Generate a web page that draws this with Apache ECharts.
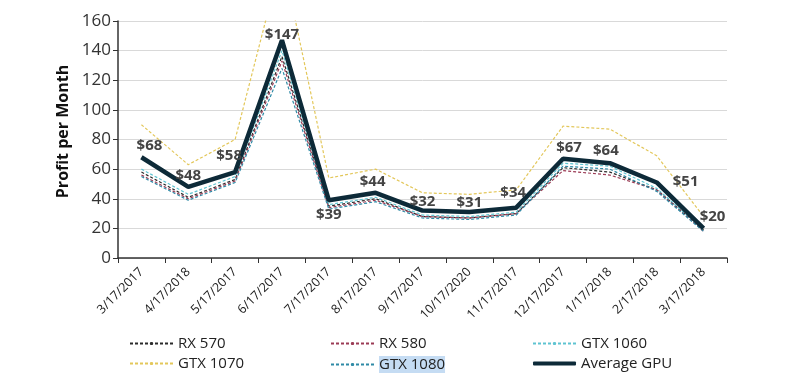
<!DOCTYPE html>
<html>
<head>
<meta charset="utf-8">
<script src="https://cdn.jsdelivr.net/npm/echarts@6/dist/echarts.min.js"></script>
<style>html,body{margin:0;padding:0;background:#fff}#c{width:800px;height:384px}</style>
</head>
<body>
<div id="c"></div>
<script>
const categories = ['3/17/2017','4/17/2018','5/17/2017','6/17/2017','7/17/2017','8/17/2017','9/17/2017','10/17/2020','11/17/2017','12/17/2017','1/17/2018','2/17/2018','3/17/2018'];
const rx570   = [58, 41, 53, 136, 35, 40, 28, 27, 30, 61, 58, 46, 19];
const rx580   = [56, 40, 52, 133, 34, 39, 28, 27, 30, 59, 56, 46, 18];
const gtx1060 = [60, 43, 55, 140, 36, 41, 29, 28, 31, 64, 62, 47, 19];
const gtx1070 = [90, 63, 80, 203, 54, 60, 44, 43, 46, 89, 87, 69, 28];
const gtx1080 = [55, 39, 51, 128, 33, 38, 27, 26, 29, 62, 60, 45, 18];
const avgGpu  = [68, 48, 58, 147, 39, 44, 32, 31, 34, 67, 64, 51, 20];
const yTicks  = [0, 20, 40, 60, 80, 100, 120, 140, 160];

// label placement per point (position, dx, dy)
const labelPlace = [
  ['top', 8, 0], ['top', 0, 0], ['top', -6, -5], ['top', 0, 6], ['bottom', 0, 3], ['top', -3, 0],
  ['top', 0, 3], ['top', 0, 2], ['top', -3, -3], ['top', 6, 0], ['top', -4, -1], ['right', 12, -1], ['top', 9, 0]
];

const font = '"Open Sans", "Noto Sans", sans-serif';
function dashed(name, data, color) {
  return {
    name, type: 'line', data, symbol: 'none', z: 2,
    lineStyle: { color, width: 1.2, type: [3, 2] },
    itemStyle: { color }
  };
}

const chart = echarts.init(document.getElementById('c'), null, { renderer: 'canvas' });
const legendBase = {
  orient: 'vertical', top: 331, itemWidth: 43, itemHeight: 4, itemGap: 5,
  textStyle: { fontFamily: font, fontSize: 15, color: '#222',
    rich: { h: { backgroundColor: '#c5dcf3', fontFamily: font, fontSize: 15, color: '#222', padding: [1, 0, 1, 0] } } },
  formatter: n => n === 'GTX 1080' ? '{h|' + n + '}' : n,
  selectedMode: false
};
chart.setOption({
  animation: false,
  grid: { left: 118, right: 73, top: 21, bottom: 126 },
  legend: [
    Object.assign({}, legendBase, { left: 124, data: ['RX 570', 'GTX 1070'] }),
    Object.assign({}, legendBase, { left: 325, data: ['RX 580', 'GTX 1080'] }),
    Object.assign({}, legendBase, { left: 527, data: ['GTX 1060', { name: 'Average GPU', icon: 'roundRect' }] })
  ],
  xAxis: {
    type: 'category', data: categories, boundaryGap: true,
    axisLine: { lineStyle: { color: '#333', width: 1.5 } },
    axisTick: { show: true, alignWithLabel: false, length: 5, lineStyle: { color: '#333' } },
    axisLabel: { rotate: 45, fontFamily: font, fontSize: 12.5, color: '#222', interval: 0, margin: 12 }
  },
  yAxis: {
    type: 'value', min: yTicks[0], max: yTicks[yTicks.length - 1], interval: 20,
    name: 'Profit per Month', nameLocation: 'middle', nameGap: 36, nameRotate: 90,
    nameTextStyle: { fontFamily: font, fontSize: 16, fontWeight: 'bold', color: '#111', padding: [0, 0, 0, 16] },
    axisLine: { show: true, lineStyle: { color: '#333', width: 1.5 } },
    axisTick: { show: true, length: 5, lineStyle: { color: '#333' } },
    axisLabel: { fontFamily: font, fontSize: 17, color: '#333', margin: 7 },
    splitLine: { lineStyle: { color: '#d9d9d9', width: 1 } }
  },
  series: [
    dashed('RX 570', rx570, '#2b2b2b'),
    dashed('RX 580', rx580, '#9b3b55'),
    dashed('GTX 1060', gtx1060, '#5ec4d1'),
    dashed('GTX 1070', gtx1070, '#e3c75a'),
    dashed('GTX 1080', gtx1080, '#2e8aa6'),
    {
      name: 'Average GPU', type: 'line', symbol: 'circle', symbolSize: 0, showSymbol: true, z: 5,
      data: avgGpu.map((v, i) => ({
        value: v,
        label: { position: labelPlace[i][0], offset: [labelPlace[i][1], labelPlace[i][2]] }
      })),
      lineStyle: { color: '#0d2a38', width: 4.5 },
      itemStyle: { color: '#0d2a38' },
      label: { show: true, formatter: p => '$' + p.value, fontFamily: font, fontSize: 15,
        fontWeight: 'bold', color: '#444', distance: 4 }
    }
  ]
});
</script>
</body>
</html>
